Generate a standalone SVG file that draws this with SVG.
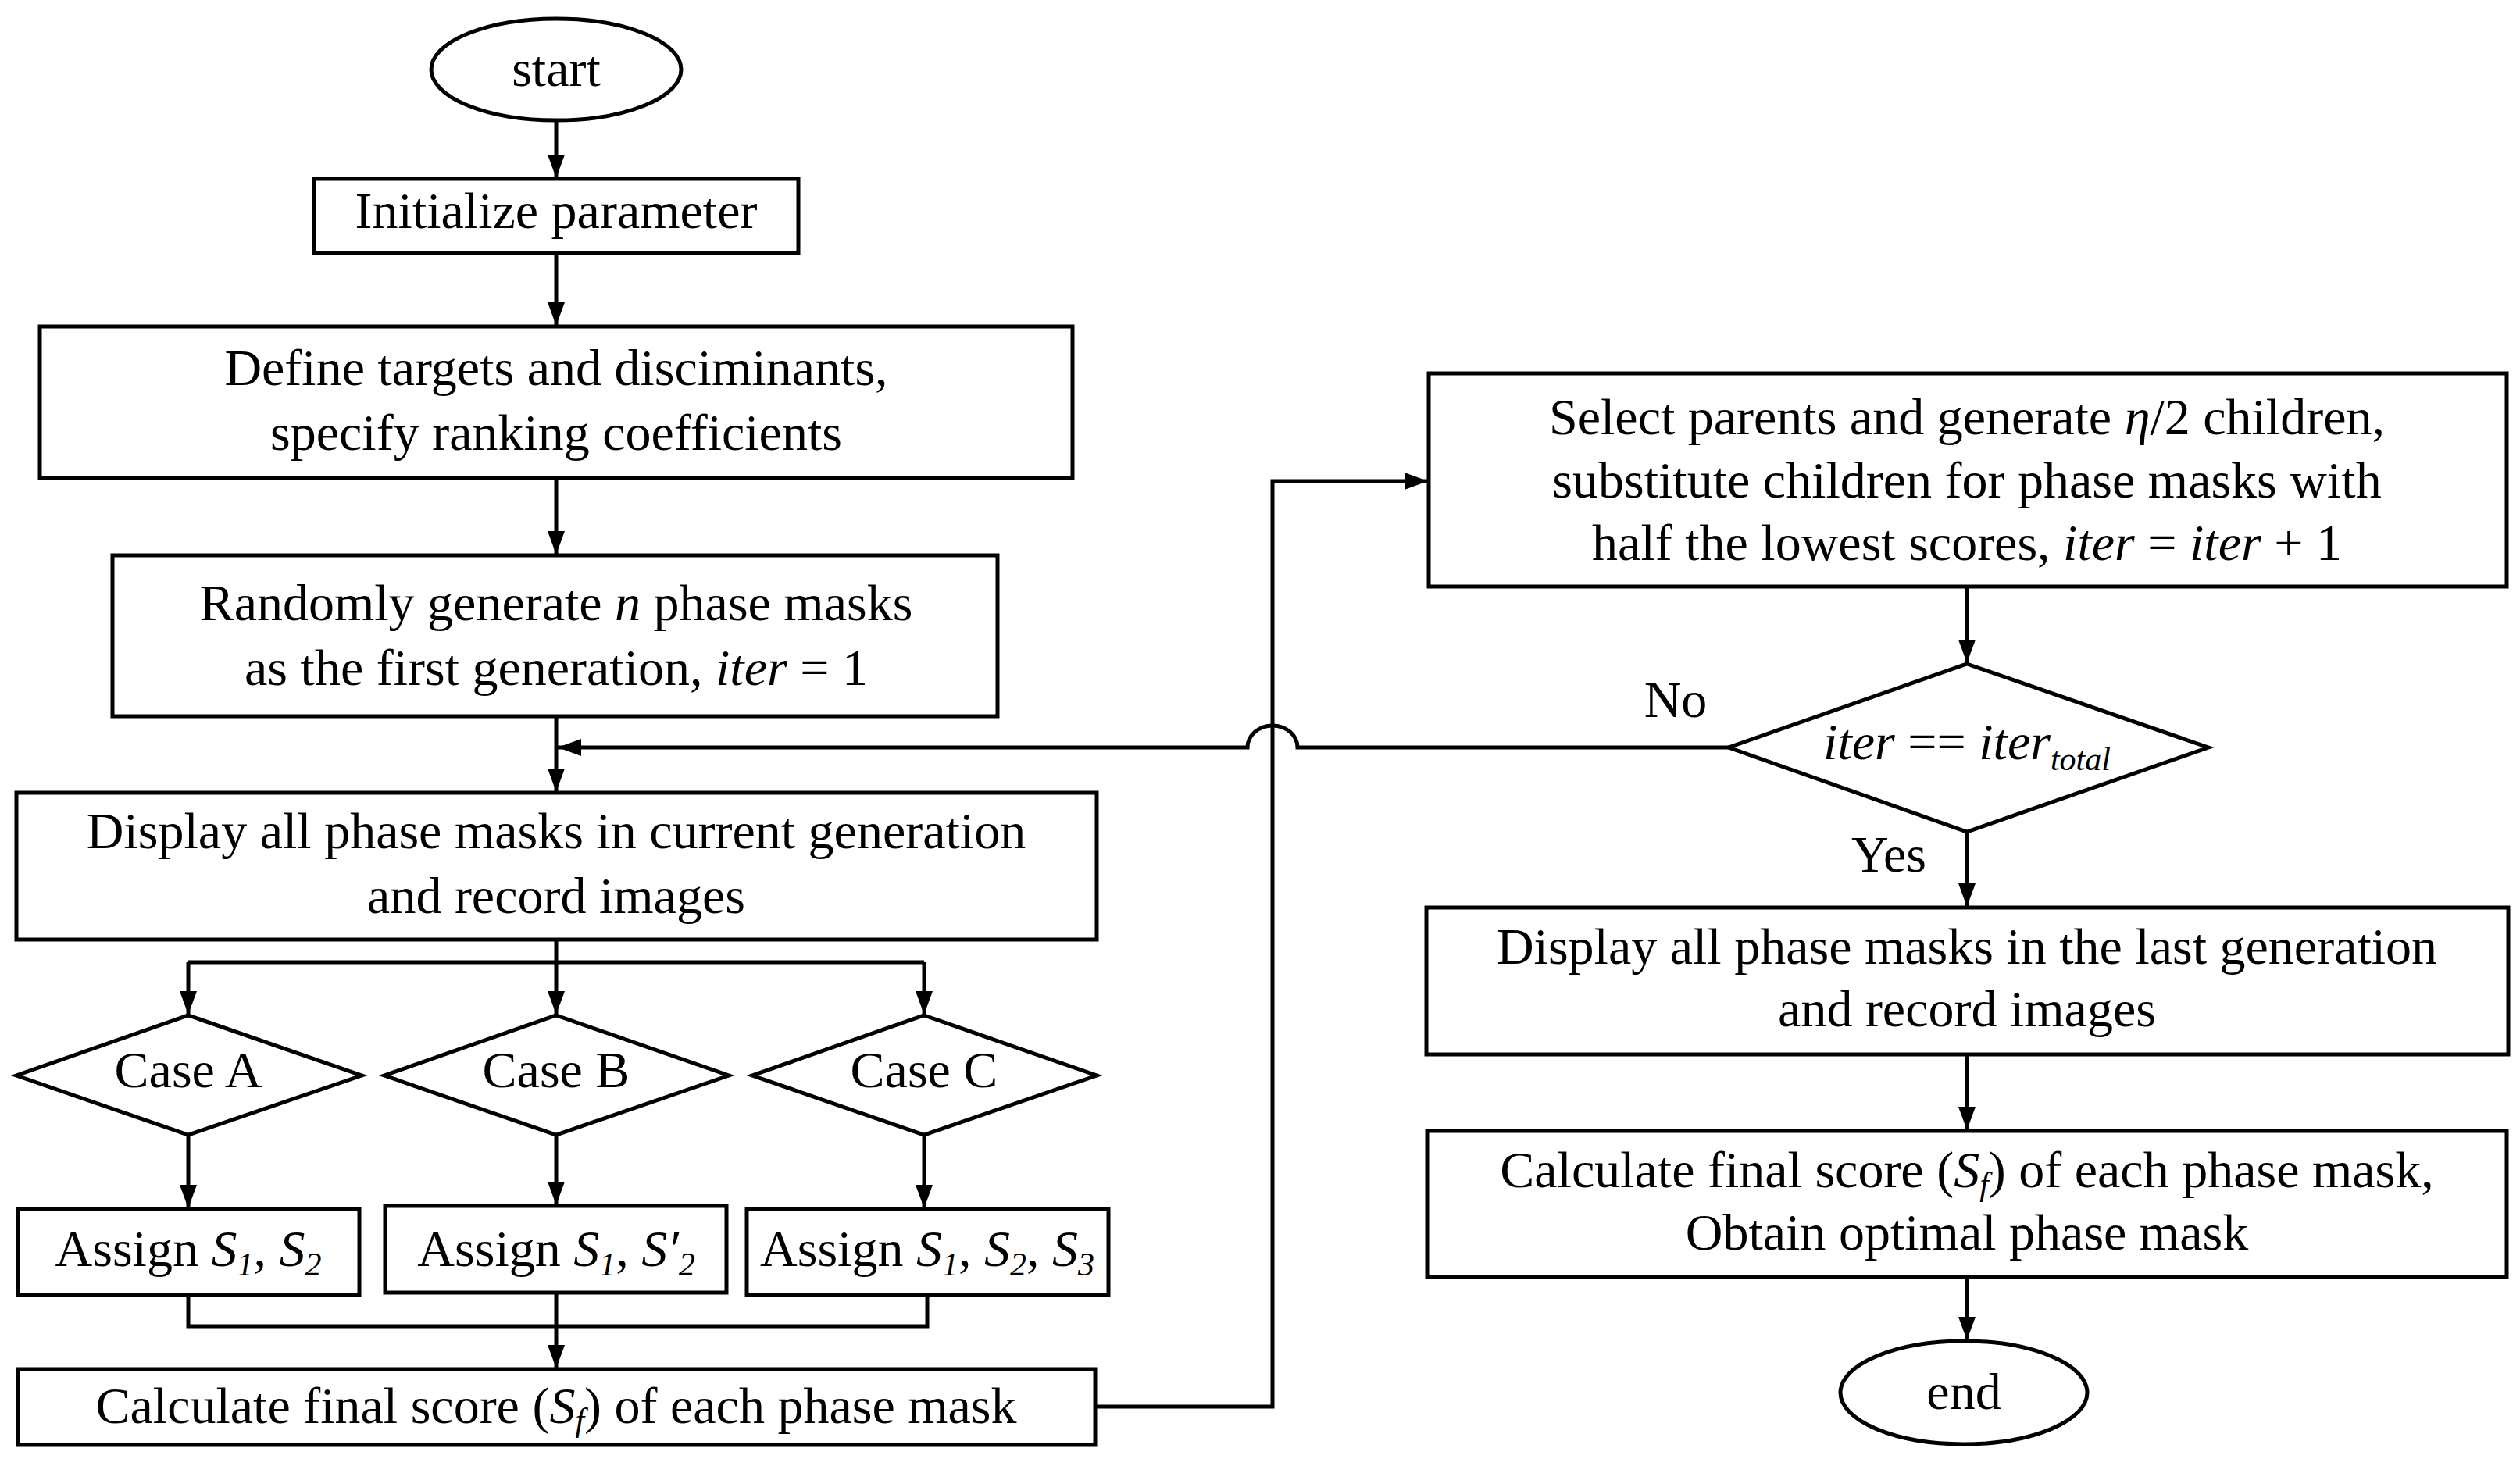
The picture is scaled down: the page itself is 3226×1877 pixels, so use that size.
<svg xmlns="http://www.w3.org/2000/svg" width="3226" height="1877" viewBox="0 0 3226 1877">
<style>
.s{fill:none;stroke:#000;stroke-width:5}
.n{fill:#fff;stroke:#000;stroke-width:5}
text{font-family:"Liberation Serif","Times New Roman",serif;font-size:66px;fill:#000;text-anchor:middle}
.i{font-style:italic}
.sub{font-size:42px;font-style:italic}
</style>
<defs>
<marker id="b" viewBox="0 0 30 30" refX="30" refY="15" markerWidth="30" markerHeight="30" orient="auto" markerUnits="userSpaceOnUse"><path d="M0,4 L30,15 L0,26 z" fill="#000"/></marker>
</defs>
<rect width="3226" height="1877" fill="#fff"/>
<g id="connectors" class="s">
<path d="M712,155 V228" marker-end="url(#b)"/>
<path d="M712,324 V417" marker-end="url(#b)"/>
<path d="M712,612 V710" marker-end="url(#b)"/>
<path d="M712,917 V1014" marker-end="url(#b)"/>
<path d="M712,1203 V1299" marker-end="url(#b)"/>
<path d="M241,1232 H1183"/>
<path d="M241,1232 V1299" marker-end="url(#b)"/>
<path d="M1183,1232 V1299" marker-end="url(#b)"/>
<path d="M241,1453 V1547" marker-end="url(#b)"/>
<path d="M712,1453 V1543" marker-end="url(#b)"/>
<path d="M1183,1453 V1547" marker-end="url(#b)"/>
<path d="M241,1658 V1698 H1187 V1658"/>
<path d="M712,1655 V1752" marker-end="url(#b)"/>
<path d="M1402,1801 H1629 V616 H1828" marker-end="url(#b)"/>
<path d="M2518,751 V849" marker-end="url(#b)"/>
<path d="M2213,957 H1661 A32,28 0 0 0 1597,957 H714" marker-end="url(#b)"/>
<path d="M2518,1065 V1161" marker-end="url(#b)"/>
<path d="M2518,1350 V1447" marker-end="url(#b)"/>
<path d="M2518,1635 V1716" marker-end="url(#b)"/>
</g>
<g id="start"><ellipse class="n" cx="712" cy="89" rx="160" ry="65"/><text x="712" y="110">start</text></g>
<g id="init"><rect class="n" x="402" y="229" width="620" height="95"/><text x="712" y="292">Initialize parameter</text></g>
<g id="define"><rect class="n" x="51" y="418" width="1322" height="194"/><text x="712" y="493">Define targets and disciminants,</text><text x="712" y="576">specify ranking coefficients</text></g>
<g id="random"><rect class="n" x="144" y="711" width="1133" height="206"/><text x="712" y="794">Randomly generate <tspan class="i">n</tspan> phase masks</text><text x="712" y="877">as the first generation, <tspan class="i">iter</tspan> = 1</text></g>
<g id="display"><rect class="n" x="21" y="1015" width="1383" height="188"/><text x="712" y="1086">Display all phase masks in current generation</text><text x="712" y="1169">and record images</text></g>
<g id="caseA"><path class="n" d="M241,1300 L463,1377 L241,1453 L21,1377 z"/><text x="241" y="1392">Case A</text></g>
<g id="caseB"><path class="n" d="M712,1300 L933,1377 L712,1453 L492,1377 z"/><text x="712" y="1392">Case B</text></g>
<g id="caseC"><path class="n" d="M1183,1300 L1404,1377 L1183,1453 L963,1377 z"/><text x="1183" y="1392">Case C</text></g>
<g id="assignA"><rect class="n" x="23" y="1548" width="437" height="110"/><text x="241" y="1621">Assign <tspan class="i">S</tspan><tspan class="sub" dy="12">1</tspan><tspan dy="-12">, </tspan><tspan class="i">S</tspan><tspan class="sub" dy="12">2</tspan></text></g>
<g id="assignB"><rect class="n" x="493" y="1544" width="437" height="111"/><text x="712" y="1621">Assign <tspan class="i">S</tspan><tspan class="sub" dy="12">1</tspan><tspan dy="-12">, </tspan><tspan class="i">S′</tspan><tspan class="sub" dy="12">2</tspan></text></g>
<g id="assignC"><rect class="n" x="956" y="1548" width="463" height="110"/><text x="1187" y="1621">Assign <tspan class="i">S</tspan><tspan class="sub" dy="12">1</tspan><tspan dy="-12">, </tspan><tspan class="i">S</tspan><tspan class="sub" dy="12">2</tspan><tspan dy="-12">, </tspan><tspan class="i">S</tspan><tspan class="sub" dy="12">3</tspan></text></g>
<g id="calc"><rect class="n" x="23" y="1753" width="1379" height="97"/><text x="712" y="1822">Calculate final score (<tspan class="i">S</tspan><tspan class="sub" dy="10">f</tspan><tspan dy="-10">) of each phase mask</tspan></text></g>
<g id="select"><rect class="n" x="1829" y="478" width="1380" height="273"/><text x="2518" y="556">Select parents and generate <tspan class="i">η</tspan>/2 children,</text><text x="2518" y="637">substitute children for phase masks with</text><text x="2518" y="717">half the lowest scores, <tspan class="i">iter</tspan> = <tspan class="i">iter</tspan> + 1</text></g>
<g id="check"><path class="n" d="M2518,850 L2827,957 L2518,1065 L2213,957 z"/><text x="2518" y="972"><tspan class="i">iter</tspan> == <tspan class="i">iter</tspan><tspan class="sub" dy="14">total</tspan></text></g>
<text x="2145" y="918">No</text>
<text x="2418" y="1116">Yes</text>
<g id="displayLast"><rect class="n" x="1826" y="1162" width="1385" height="188"/><text x="2518" y="1234">Display all phase masks in the last generation</text><text x="2518" y="1314">and record images</text></g>
<g id="calcFinal"><rect class="n" x="1827" y="1448" width="1382" height="187"/><text x="2518" y="1520">Calculate final score (<tspan class="i">S</tspan><tspan class="sub" dy="10">f</tspan><tspan dy="-10">) of each phase mask,</tspan></text><text x="2518" y="1600">Obtain optimal phase mask</text></g>
<g id="end"><ellipse class="n" cx="2514" cy="1783" rx="158" ry="66"/><text x="2514" y="1804">end</text></g>
</svg>
